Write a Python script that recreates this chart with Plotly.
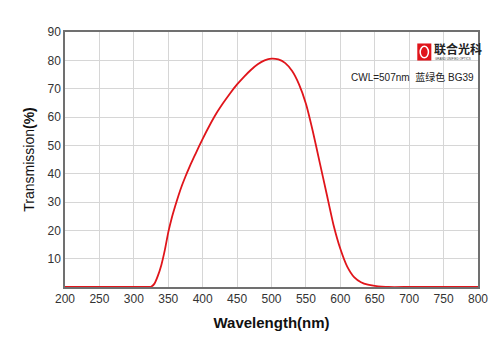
import plotly.graph_objects as go

wavelength = [200, 250, 300, 320, 325, 330, 335, 340, 345, 350, 355, 360, 365, 370, 375, 380,
              385, 390, 395, 400, 410, 420, 430, 440, 450, 460, 470, 480, 490, 500, 510, 520,
              530, 540, 550, 560, 570, 580, 590, 600, 610, 620, 630, 640, 650, 660, 670,
              700, 750, 800]
transmission = [0, 0, 0, 0, 0.1, 1.2, 4, 7.8, 13, 19.3, 24.3, 28.5, 32.4, 35.9, 39.0, 41.9,
                44.6, 47.2, 49.8, 52.3, 57.0, 61.3, 65, 68.4, 71.5, 74.2, 76.6, 78.6, 80, 80.6, 80.3, 79,
                76.2, 71.5, 64.7, 55, 44, 33, 22, 13.5, 7.2, 3.5, 1.7, 0.8, 0.4, 0.15, 0,
                0, 0, 0]

x_ticks = list(range(200, 801, 50))
y_ticks = list(range(10, 91, 10))

fig = go.Figure()
fig.add_trace(go.Scatter(x=wavelength, y=transmission, mode="lines",
                         line=dict(color="#e0151b", width=1.8, shape="spline", smoothing=0.5),
                         hoverinfo="skip", showlegend=False))

axis_font = dict(family="Liberation Sans, Arial, sans-serif", size=12, color="#333333")
fig.update_layout(
    width=500, height=353,
    margin=dict(l=65, r=15, t=32, b=66),
    paper_bgcolor="white", plot_bgcolor="white",
    showlegend=False,
    xaxis=dict(range=[200, 800], tickvals=x_ticks, ticks="", showgrid=True,
               gridcolor="#d6d6d6", gridwidth=1, showline=True, linecolor="#707070",
               linewidth=1.5, mirror=True, tickfont=axis_font, zeroline=False,
               title=dict(text="<b>Wavelength(nm)</b>",
                          font=dict(family="Liberation Sans, Arial, sans-serif", size=15, color="#111111"),
                          standoff=12)),
    yaxis=dict(range=[0, 90], tickvals=y_ticks, ticks="", showgrid=True,
               gridcolor="#d6d6d6", gridwidth=1, showline=True, linecolor="#707070",
               linewidth=1.5, mirror=True, tickfont=axis_font, zeroline=False,
               title=dict(text="Transmission<b>(%)</b>",
                          font=dict(family="Liberation Sans, Arial, sans-serif", size=14, color="#111111"),
                          standoff=10)),
)

# logo
fig.add_shape(type="rect", xref="paper", yref="paper", x0=0.853, x1=0.887, y0=0.888, y1=0.955,
              fillcolor="#e0151b", line=dict(color="#e0151b", width=0))
fig.add_shape(type="circle", xref="paper", yref="paper", x0=0.860, x1=0.880, y0=0.899, y1=0.944,
              fillcolor="#e0151b", line=dict(color="white", width=1.5))
fig.add_annotation(xref="paper", yref="paper", x=0.889, y=0.935, xanchor="left", yanchor="middle",
                   text="<b>联合光科</b>", showarrow=False,
                   font=dict(family="Noto Sans CJK SC", size=12, color="#222222"))
fig.add_annotation(xref="paper", yref="paper", x=0.891, y=0.895, xanchor="left", yanchor="middle",
                   text="GRAND UNIFIED OPTICS", showarrow=False,
                   font=dict(family="Liberation Sans", size=3, color="#444444"))
fig.add_annotation(xref="paper", yref="paper", x=0.995, y=0.822, xanchor="right", yanchor="middle",
                   text="CWL=507nm&nbsp;&nbsp;蓝绿色&nbsp;BG39", showarrow=False,
                   font=dict(family="Liberation Sans, Noto Sans CJK SC", size=10, color="#222222"))

fig.write_html("out.html")
